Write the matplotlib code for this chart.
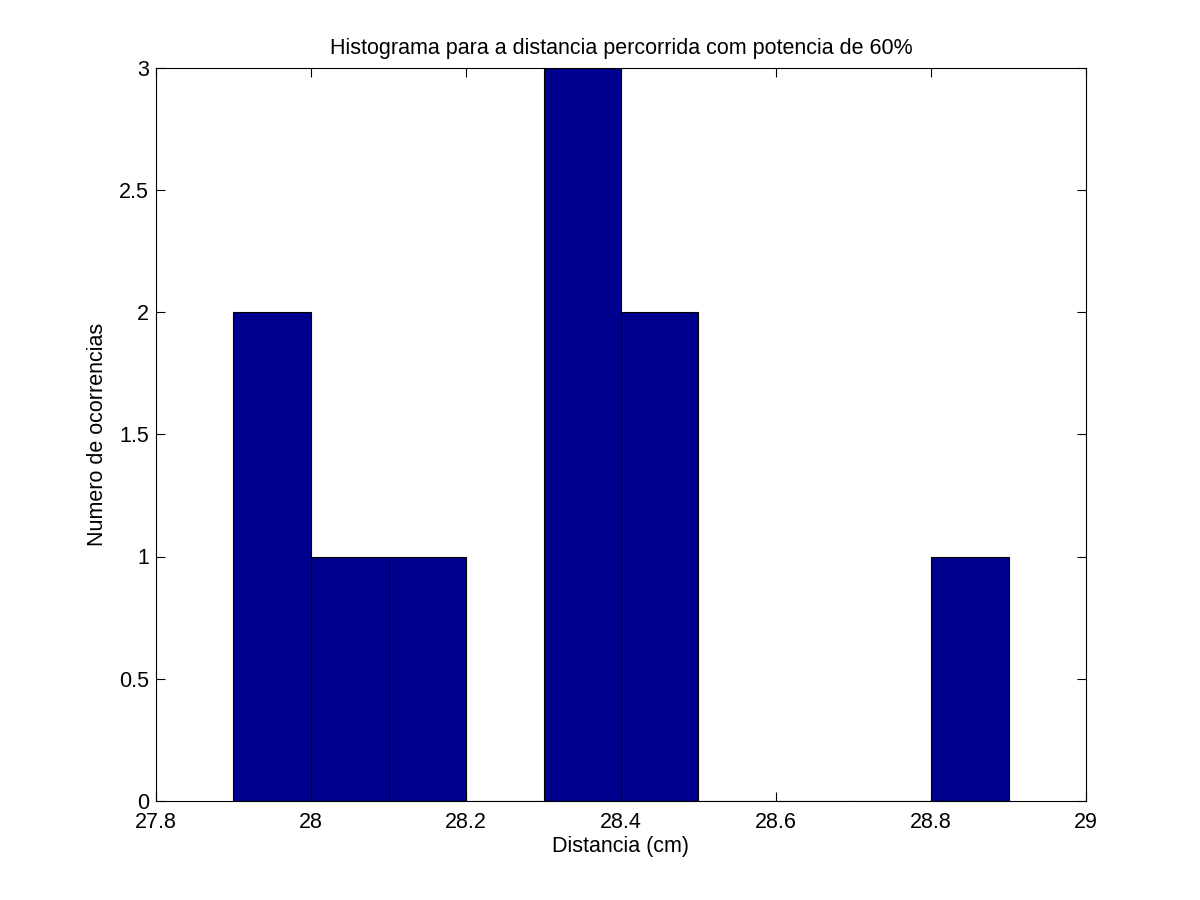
import matplotlib
matplotlib.use("Agg")
import matplotlib.pyplot as plt

bin_left = [27.9, 28.0, 28.1, 28.2, 28.3, 28.4, 28.5, 28.6, 28.7, 28.8]
counts = [2, 1, 1, 0, 3, 2, 0, 0, 0, 1]
bin_width = 0.1
xticks = [27.8, 28.0, 28.2, 28.4, 28.6, 28.8, 29.0]
xticklabels = ["27.8", "28", "28.2", "28.4", "28.6", "28.8", "29"]
yticks = [0, 0.5, 1, 1.5, 2, 2.5, 3]
yticklabels = ["0", "0.5", "1", "1.5", "2", "2.5", "3"]

plt.rcParams['font.family'] = ['Liberation Sans', 'DejaVu Sans']
fig = plt.figure(figsize=(12, 9), dpi=100)
ax = fig.add_axes([0.13, 0.11, 0.775, 0.815])
ax.bar(bin_left, counts, width=bin_width, align='edge', color='#00008F',
       edgecolor='black', linewidth=0.8)
ax.set_xlim(27.8, 29.0)
ax.set_ylim(0, 3)
ax.set_xticks(xticks)
ax.set_xticklabels(xticklabels)
ax.set_yticks(yticks)
ax.set_yticklabels(yticklabels)
ax.tick_params(direction='in', top=True, right=True, length=6.5, labelsize=15.5)
ax.tick_params(axis='x', pad=8)
ax.tick_params(axis='y', pad=5)
for s in ax.spines.values():
    s.set_linewidth(0.8)
ax.set_title("Histograma para a distancia percorrida com potencia de 60%", fontsize=15.5, pad=10)
ax.set_xlabel("Distancia (cm)", fontsize=15.5, labelpad=2)
ax.set_ylabel("Numero de ocorrencias", fontsize=15.5, labelpad=8)
fig.savefig("out.png", dpi=100)
